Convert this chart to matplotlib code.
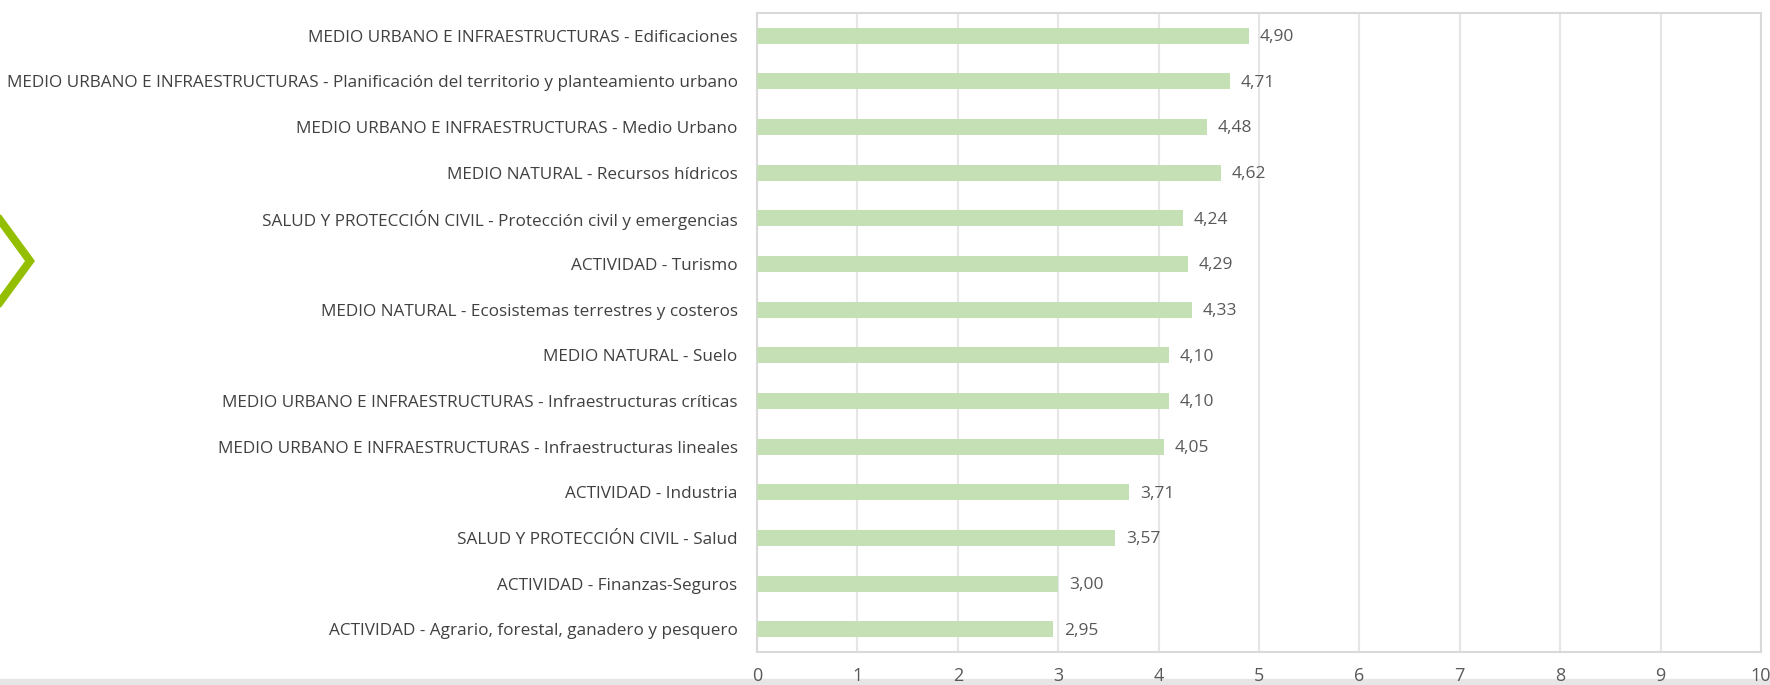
import matplotlib.pyplot as plt
from matplotlib.lines import Line2D
from matplotlib.patches import Rectangle

categories = [
    "MEDIO URBANO E INFRAESTRUCTURAS - Edificaciones",
    "MEDIO URBANO E INFRAESTRUCTURAS - Planificación del territorio y planteamiento urbano",
    "MEDIO URBANO E INFRAESTRUCTURAS - Medio Urbano",
    "MEDIO NATURAL - Recursos hídricos",
    "SALUD Y PROTECCIÓN CIVIL - Protección civil y emergencias",
    "ACTIVIDAD - Turismo",
    "MEDIO NATURAL - Ecosistemas terrestres y costeros",
    "MEDIO NATURAL - Suelo",
    "MEDIO URBANO E INFRAESTRUCTURAS - Infraestructuras críticas",
    "MEDIO URBANO E INFRAESTRUCTURAS - Infraestructuras lineales",
    "ACTIVIDAD - Industria",
    "SALUD Y PROTECCIÓN CIVIL - Salud",
    "ACTIVIDAD - Finanzas-Seguros",
    "ACTIVIDAD - Agrario, forestal, ganadero y pesquero",
]
values = [4.90, 4.71, 4.48, 4.62, 4.24, 4.29, 4.33, 4.10, 4.10, 4.05, 3.71, 3.57, 3.00, 2.95]
xticks = list(range(0, 11))

plt.rcParams['font.family'] = ['Open Sans', 'DejaVu Sans']
text_color = '#404040'

fig = plt.figure(figsize=(17.7, 6.85), dpi=100)
ax = fig.add_axes([757 / 1770, 1 - 652 / 685, (1761 - 757) / 1770, (652 - 13) / 685])

ypos = list(range(len(categories)))
ax.barh(ypos, values, height=0.35, color='#c5e0b4', zorder=3)
for y, v in zip(ypos, values):
    ax.annotate(f"{v:.2f}".replace('.', ','), (v, y), xytext=(8, -1),
                textcoords='offset points', va='center', ha='left',
                fontsize=12.5, color='#595959')

ax.set_yticks(ypos)
ax.set_yticklabels(categories, fontsize=12.35, color=text_color)
ax.set_ylim(len(categories) - 0.5, -0.5)
ax.set_xlim(0, 10)
ax.set_xticks(xticks)
ax.set_xticklabels([str(t) for t in xticks], fontsize=13, color='#595959')
ax.tick_params(axis='y', length=0, pad=14)
ax.tick_params(axis='x', length=0, pad=11)
ax.grid(axis='x', color='#e6e6e6', linewidth=1.5, zorder=0)
for s in ax.spines.values():
    s.set_color('#d9d9d9')
    s.set_linewidth(1.5)

# green chevron on the left edge
fig.add_artist(Line2D([0 / 1770, 30 / 1770, 0 / 1770],
                      [1 - 220 / 685, 1 - 261 / 685, 1 - 302 / 685],
                      color='#94bf00', linewidth=5.8, solid_joinstyle='miter'))
# grey strip at the bottom edge
fig.add_artist(Rectangle((0, 0), 1, 6 / 685, transform=fig.transFigure,
                         color='#e6e6e6', zorder=0))

fig.savefig('out.png', dpi=100)
